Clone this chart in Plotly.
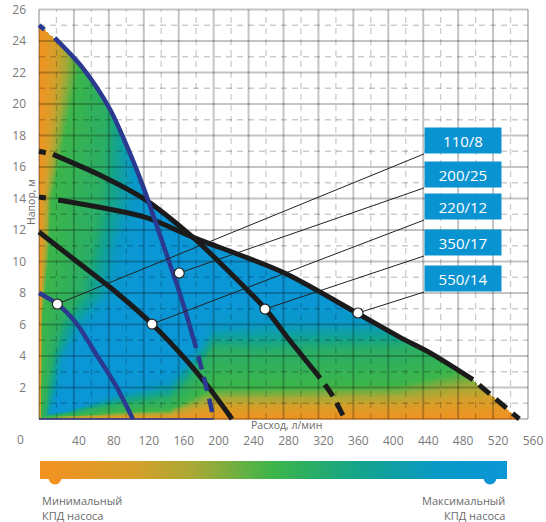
import numpy as np
import plotly.graph_objects as go

# ---------------- data ----------------
pump_names = ["110/8", "200/25", "220/12", "350/17", "550/14"]

q_110_8 = [0, 21, 42.4, 65.3, 88.2, 107.5]
h_110_8 = [8.0, 7.3, 6.1, 4.13, 2.1, 0.0]

q_200_25 = [0, 18, 50, 81, 104, 119, 131, 147, 160, 170, 180, 188, 195, 200]
h_200_25 = [25.0, 24.2, 22.3, 19.7, 16.9, 14.8, 12.9, 10.3, 8.2, 6.4, 4.5, 2.8, 1.25, 0.0]

q_220_12 = [0, 47, 89.3, 129.4, 168.4, 195.8, 221]
h_220_12 = [11.87, 9.84, 8.0, 6.03, 3.75, 1.9, 0.0]

q_350_17 = [0, 16, 73, 122.5, 176, 204, 259, 287, 322, 337, 350]
h_350_17 = [17.0, 16.8, 15.4, 13.9, 11.55, 10.1, 7.0, 5.0, 2.6, 1.4, 0.0]

q_550_14 = [0, 22, 122, 176, 280, 365, 413, 448, 497, 550]
h_550_14 = [14.1, 13.9, 12.8, 11.55, 9.3, 6.7, 5.2, 4.2, 2.5, 0.0]

# index range of the solid (working) part of each curve; the rest is dashed
solid_110_8 = (0, 5)
solid_200_25 = (1, 10)
solid_220_12 = (0, 6)
solid_350_17 = (1, 8)
solid_550_14 = (1, 8)

# operating points marked with white dots
dot_q = [21, 160.6, 129.4, 258.8, 365.3]
dot_h = [7.3, 9.27, 6.03, 6.98, 6.73]

# efficiency shading.
# Left edge, by head: flow where the colour reaches green / teal / blue
edge_left_h = [0, 2, 4, 6, 8, 11, 14, 18, 22, 26]
edge_left_green = [2, 3, 4, 4, 7, 12, 15, 30, 45, 50]
edge_left_teal = [6, 10, 15, 24, 47, 60, 70, 77, 80, 85]
edge_left_blue = [12, 22, 30, 53, 87, 95, 115, 112, 130, 140]
# Bottom edge, by flow: head where the colour reaches green / teal / blue
edge_bottom_q = [0, 30, 100, 150, 170, 200, 250, 410, 480, 560]
edge_bottom_green = [0.1, 0.2, 0.5, 0.6, 1.2, 2.0, 2.0, 2.2, 3.0, 3.5]
edge_bottom_teal = [0.2, 0.35, 1.0, 1.3, 2.3, 4.5, 4.3, 4.5, 5.0, 6.0]
edge_bottom_blue = [0.3, 0.5, 1.8, 2.5, 3.8, 6.0, 6.3, 6.5, 8.0, 9.0]

x_ticks = list(range(40, 561, 40))
y_ticks = list(range(2, 27, 2))
x_minor = list(range(20, 560, 40))
y_minor = list(range(1, 26, 2))
x_lim = [0, 560]
y_lim = [0, 26]

# ---------------- styling ----------------
W, H = 546, 522
BLACK = "#1b1b1b"
BLUE = "#2b3990"
BOX = "#0a93d1"
TXT = "#7a7a7a"
FONT = "Open Sans"
cscale = [[0.0, "#f39221"], [0.2, "#d69f2a"], [0.33, "#a8a936"], [0.5, "#3cb54a"],
          [0.68, "#14a489"], [0.85, "#0a99c6"], [1.0, "#0b96d6"]]
LEVEL_GREEN, LEVEL_TEAL, LEVEL_BLUE = 0.5, 0.58, 0.9

curves = [
    (pump_names[2], q_220_12, h_220_12, BLACK, 5, solid_220_12),
    (pump_names[3], q_350_17, h_350_17, BLACK, 5, solid_350_17),
    (pump_names[4], q_550_14, h_550_14, BLACK, 5, solid_550_14),
    (pump_names[0], q_110_8, h_110_8, BLUE, 4.5, solid_110_8),
    (pump_names[1], q_200_25, h_200_25, BLUE, 4.5, solid_200_25),
]


def ramp(d, g, t, b):
    v = np.where(d < g, LEVEL_GREEN * d / g,
        np.where(d < t, LEVEL_GREEN + (LEVEL_TEAL - LEVEL_GREEN) * (d - g) / (t - g),
        np.where(d < b, LEVEL_TEAL + (LEVEL_BLUE - LEVEL_TEAL) * (d - t) / (b - t),
                 LEVEL_BLUE + (1 - LEVEL_BLUE) * (d - b) / (0.2 * b))))
    return np.clip(v, 0, 1)


# ---------------- efficiency field, masked above the curves' envelope ----------------
xc = np.arange(1, 560, 2.0)
yc = np.arange(0.05, 26, 0.1)
env = np.max([np.interp(xc, cq, ch, right=-1) for _, cq, ch, _, _, _ in curves], axis=0)
v_left = ramp(xc[None, :],
              np.interp(yc, edge_left_h, edge_left_green)[:, None],
              np.interp(yc, edge_left_h, edge_left_teal)[:, None],
              np.interp(yc, edge_left_h, edge_left_blue)[:, None])
v_bottom = ramp(yc[:, None],
                np.interp(xc, edge_bottom_q, edge_bottom_green)[None, :],
                np.interp(xc, edge_bottom_q, edge_bottom_teal)[None, :],
                np.interp(xc, edge_bottom_q, edge_bottom_blue)[None, :])
V = np.minimum(v_left, v_bottom)
V[yc[:, None] > env[None, :]] = np.nan
zlist = [[None if np.isnan(v) else round(float(v), 3) for v in row] for row in V]

fig = go.Figure()
fig.add_trace(go.Heatmap(
    x=xc.tolist(), y=yc.tolist(), z=zlist, zmin=0, zmax=1, colorscale=cscale, zsmooth=False,
    hoverinfo="skip",
    colorbar=dict(orientation="h", x=273.5 / W, xanchor="center", y=(H - 461) / H,
                  yanchor="top", len=467, lenmode="pixels", thickness=18,
                  thicknessmode="pixels", outlinewidth=0, showticklabels=False,
                  ticks="", xpad=0, ypad=0),
))


def grid_xy(vx, vy):
    xs, ys = [], []
    for v in vx:
        xs += [v, v, None]
        ys += [y_lim[0], y_lim[1], None]
    for v in vy:
        xs += [x_lim[0], x_lim[1], None]
        ys += [v, v, None]
    return xs, ys


gx, gy = grid_xy(x_minor, y_minor)
fig.add_trace(go.Scatter(x=gx, y=gy, mode="lines", hoverinfo="skip",
                         line=dict(color="rgba(0,0,0,0.2)", width=1.3, dash="6px,5px")))
gx, gy = grid_xy([0] + x_ticks, [0] + y_ticks)
fig.add_trace(go.Scatter(x=gx, y=gy, mode="lines", hoverinfo="skip",
                         line=dict(color="rgba(0,0,0,0.23)", width=2)))

# thin base line of the 200/25 chart along zero head
fig.add_trace(go.Scatter(x=[q_200_25[0], q_200_25[-1]], y=[h_200_25[-1], h_200_25[-1]],
                         mode="lines", hoverinfo="skip", line=dict(color=BLUE, width=1.5)))

for name, q, h, col, lw, (a, b) in curves:
    fig.add_trace(go.Scatter(x=q[a:b + 1], y=h[a:b + 1], mode="lines", hoverinfo="skip",
                             line=dict(color=col, width=lw, shape="spline", smoothing=0.8)))
    if a > 0:
        fig.add_trace(go.Scatter(x=q[:a + 1], y=h[:a + 1], mode="lines", hoverinfo="skip",
                                 line=dict(color=col, width=lw, dash="7px,14px")))
    if b < len(q) - 1:
        fig.add_trace(go.Scatter(x=q[b:], y=h[b:], mode="lines", hoverinfo="skip",
                                 line=dict(color=col, width=lw, shape="spline", smoothing=0.8,
                                           dash="0px,8px,14px,0px")))

# label boxes (bottom-left corner in data units) and leader lines
box_x = 440.9
box_y = [16.83, 14.67, 12.63, 10.35, 8.06]
for i, name in enumerate(pump_names):
    fig.add_trace(go.Scatter(x=[dot_q[i], box_x], y=[dot_h[i], box_y[i]], mode="lines",
                             hoverinfo="skip", line=dict(color="#222222", width=1)))
    fig.add_annotation(x=box_x, y=box_y[i], xref="x", yref="y", xanchor="left",
                       yanchor="bottom", text=name, showarrow=False, width=76, height=25,
                       bgcolor=BOX, borderpad=0, font=dict(family=FONT, size=15, color="white"))

fig.add_trace(go.Scatter(x=dot_q, y=dot_h, mode="markers", hoverinfo="skip",
                         marker=dict(size=10, color="white", line=dict(color="#222222", width=1.2))))

# colour-bar end markers
for cx, col in [(55, "#f39221"), (490, "#0b96d6")]:
    fig.add_shape(type="circle", xref="paper", yref="paper",
                  x0=(cx - 8) / W, x1=(cx + 8) / W, y0=(H - 486) / H, y1=(H - 470) / H,
                  fillcolor=col, line=dict(color="white", width=3), layer="above")

small = dict(family=FONT, size=11, color="#6b6b6b")
texts = [
    ("Минимальный", 40, 500, "left"), ("КПД насоса", 40, 515, "left"),
    ("Максимальный", 507, 500, "right"), ("КПД насоса", 507, 515, "right"),
]
for t, px, py, anc in texts:
    fig.add_annotation(x=px / W, y=(H - py) / H, xref="paper", yref="paper", text=t,
                       showarrow=False, xanchor=anc, yanchor="middle", font=small)

fig.add_annotation(x=286 / W, y=(H - 425) / H, xref="paper", yref="paper", text="Расход, л/мин",
                   showarrow=False, xanchor="center", yanchor="middle",
                   font=dict(family=FONT, size=10.5, color="#6b6b6b"))
fig.add_annotation(x=31 / W, y=(H - 202) / H, xref="paper", yref="paper", text="Напор, м",
                   showarrow=False, textangle=-90, xanchor="center", yanchor="middle",
                   font=dict(family=FONT, size=10.5, color="#6b6b6b"))
fig.add_annotation(x=20 / W, y=(H - 439) / H, xref="paper", yref="paper", text="0",
                   showarrow=False, xanchor="center", yanchor="middle",
                   font=dict(family=FONT, size=12, color=TXT))

fig.update_layout(
    width=W, height=H, margin=dict(l=0, r=0, t=0, b=0, autoexpand=False),
    paper_bgcolor="white", plot_bgcolor="white", showlegend=False,
    xaxis=dict(domain=[37 / W, 530 / W], range=[-2.29, 562.29], tickvals=x_ticks,
               showgrid=False, zeroline=False, showline=False, ticks="",
               ticklabelshift=5, ticklabelstandoff=11,
               tickfont=dict(family=FONT, size=12, color=TXT)),
    yaxis=dict(domain=[(H - 421) / H, (H - 7) / H], range=[-0.127, 26.159], tickvals=y_ticks,
               showgrid=False, zeroline=False, showline=False, ticks="",
               ticklabelstandoff=10,
               tickfont=dict(family=FONT, size=12, color=TXT)),
)

fig.write_html("out.html", config={"displayModeBar": False},
               post_script="document.body.style.margin='0';")
